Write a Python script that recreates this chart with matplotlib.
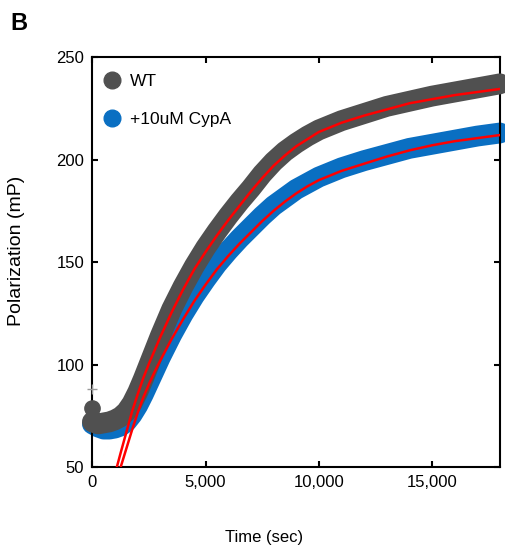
import matplotlib
matplotlib.use("Agg")
import matplotlib.pyplot as plt
from matplotlib.lines import Line2D
from matplotlib.ticker import FuncFormatter

plt.rcParams['font.family'] = ['Liberation Sans', 'DejaVu Sans']

# anisotropy time course, seconds vs mP
t_read = [0, 250, 500, 750, 1000, 1250, 1500, 1750, 2000, 2250, 2500, 2750, 3000,
          3500, 4000, 4500, 5000, 5500, 6000, 6500, 7000, 7500, 8000, 8500, 9000,
          9500, 10000, 11000, 12000, 13000, 14000, 15000, 16000, 17000, 18000]
pol_wt = [72, 71, 71.5, 72, 73, 74.5, 77, 81, 86.5, 93, 100, 107, 114,
          127, 138, 148, 157, 165, 172.5, 179.5, 186, 193, 199, 204, 208,
          211.5, 214.5, 219, 222.5, 226, 228.5, 231, 233, 235, 237]
pol_cypa = [71, 69.5, 68.5, 68.5, 69, 70, 72, 75.5, 80, 85.5, 91.5, 97.5, 103.5,
            114.5, 124.5, 133.5, 141.5, 149, 155.5, 161.5, 167, 172.5, 177.5, 181.5, 185.5,
            188.5, 191.5, 196, 199.5, 202.5, 205.5, 207.5, 209.5, 211.5, 213]

# first reads at t=0
t_first = 0
pol_first_wt = 79
pol_first_err = 88

# fitted curves
t_fit_wt = [1000, 1080, 1250, 1500, 1750, 2000, 2250, 2500, 2750, 3000, 3500, 4000,
            4500, 5000, 5500, 6000, 6500, 7000, 7500, 8000, 8500, 9000, 9500, 10000,
            11000, 12000, 13000, 14000, 15000, 16000, 17000, 18000]
fit_wt = [46.5, 50, 57, 67, 77, 85.5, 93.5, 100.5, 107, 113.5, 125.5, 136.5,
          146.5, 155, 163, 170.5, 177.5, 184.5, 191, 197, 202, 206.5, 210, 213.5,
          218, 221.5, 224.5, 227.5, 229.5, 231.5, 233, 234.5]
t_fit_cypa = [1000, 1250, 1500, 1750, 2000, 2250, 2500, 2750, 3000, 3500, 4000,
              4500, 5000, 5500, 6000, 6500, 7000, 7500, 8000, 8500, 9000, 9500, 10000,
              11000, 12000, 13000, 14000, 15000, 16000, 17000, 18000]
fit_cypa = [41, 50, 59, 68, 76.5, 84, 90.5, 96.5, 102, 112.5, 122,
            131, 139, 146.5, 153, 159, 164.5, 170, 175, 179.5, 183.5, 187, 190,
            194.5, 198, 201.5, 204.5, 207, 209, 210.5, 212]

gray = '#505050'
blue = '#0a6fc2'

fig = plt.figure(figsize=(5.05, 5.5), dpi=100)
ax = fig.add_axes([0.183, 0.151, 0.807, 0.745])

ax.plot(t_read, pol_cypa, color=blue, lw=15, solid_capstyle='round',
        solid_joinstyle='round', clip_on=False, zorder=2)
ax.plot(t_read, pol_wt, color=gray, lw=15, solid_capstyle='round',
        solid_joinstyle='round', clip_on=False, zorder=3)
ax.plot([t_first], [pol_first_wt], 'o', color=gray, ms=11, clip_on=False, zorder=3)
ax.plot([t_first], [pol_first_err], '+', color='#9a9a9a', ms=7, mew=1, clip_on=False, zorder=3)

ax.plot(t_fit_wt, fit_wt, color='#ff0000', lw=1.8, zorder=4)
ax.plot(t_fit_cypa, fit_cypa, color='#ff0000', lw=1.8, zorder=4)

ax.set_xlim(0, 18000)
ax.set_ylim(50, 250)
ax.set_xticks([0, 5000, 10000, 15000])
ax.set_yticks([50, 100, 150, 200, 250])
ax.xaxis.set_major_formatter(FuncFormatter(lambda v, p: f'{v:,.0f}'))
ax.tick_params(direction='in', length=4, width=1.5, top=True, right=True,
               labelsize=12, pad=6)
for s in ax.spines.values():
    s.set_linewidth(1.5)

ax.set_xlabel('Time (sec)', fontsize=12)
ax.set_ylabel('Polarization (mP)', fontsize=14)
ax.xaxis.set_label_coords(0.422, -0.154)
ax.yaxis.set_label_coords(-0.166, 0.527)

handles = [Line2D([], [], ls='none', marker='o', ms=12, color=gray),
           Line2D([], [], ls='none', marker='o', ms=12, color=blue)]
ax.legend(handles, ['WT', '+10uM CypA'], loc='upper left', frameon=False,
          bbox_to_anchor=(0.0265, 0.959), fontsize=12.5, handlelength=1,
          handletextpad=0.55, labelspacing=1.3, borderpad=0, borderaxespad=0)

fig.text(0.02, 0.945, 'B', fontsize=17, fontweight='bold')

fig.savefig('out.png', dpi=100)
